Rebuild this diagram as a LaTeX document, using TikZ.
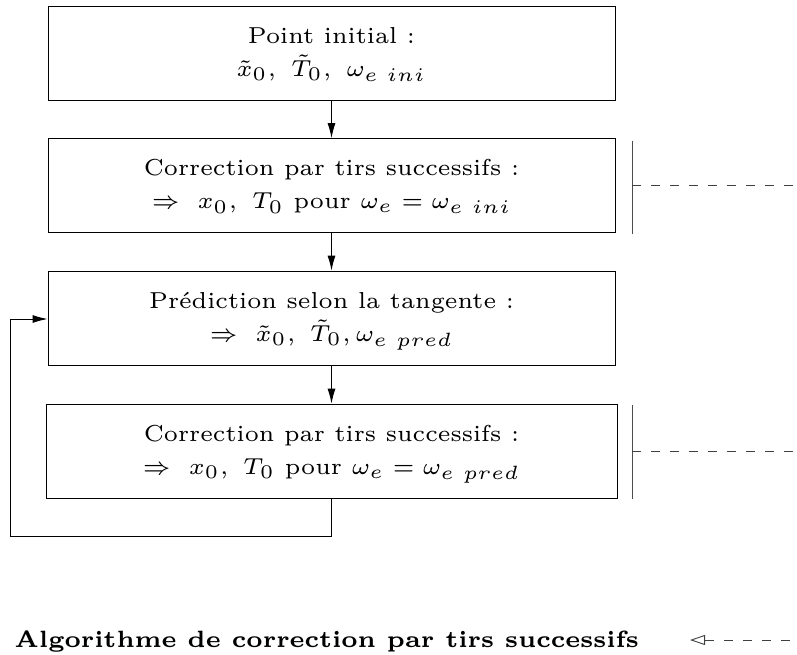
\documentclass[tikz,border=0pt]{standalone}
\usepackage{fix-cm}
\usepackage{graphicx}
\usetikzlibrary{arrows.meta}
\newcommand{\boxtext}[1]{\scalebox{3.85}{\fontsize{6}{8.6}\selectfont\begin{tabular}{@{}c@{}}#1\end{tabular}}}
\begin{document}
\begin{tikzpicture}[x=1pt,y=-1pt,
  stepbox/.style={draw,line width=0.9pt,minimum width=567pt,minimum height=94pt,align=center,inner sep=0pt},
  link/.style={line width=0.9pt,-{Latex[length=15pt,width=8pt]}},
  side/.style={line width=0.9pt,draw=black!70},
  dashline/.style={line width=0.9pt,draw=black!75,dash pattern=on 9pt off 10pt}]
\useasboundingbox (0,0) rectangle (797,655);
\node[stepbox] (b1) at (331.5,53) {\boxtext{Point initial :\\ $\tilde{x}_0,\ \tilde{T}_0,\ \omega_{e\ ini}$}};
\node[stepbox] (b2) at (331.5,185.5) {\boxtext{Correction par tirs successifs :\\ $\Rightarrow\ x_0,\ T_0$ pour $\omega_e=\omega_{e\ ini}$}};
\node[stepbox] (b3) at (331.5,318) {\boxtext{Pr\'ediction selon la tangente :\\ $\Rightarrow\ \tilde{x}_0,\ \tilde{T}_0,\omega_{e\ pred}$}};
\node[stepbox,minimum width=571pt] (b4) at (331.5,451) {\boxtext{Correction par tirs successifs :\\ $\Rightarrow\ x_0,\ T_0$ pour $\omega_e=\omega_{e\ pred}$}};
\draw[link] (b1) -- (b2);
\draw[link] (b2) -- (b3);
\draw[link] (b3) -- (b4);
\coordinate (l1) at (331.5,536);
\coordinate (l2) at (10.5,536);
\coordinate (l3) at (10.5,319);
\draw[link] (b4.south) -- (l1) -- (l2) -- (l3) -- (b3.west |- l3);
% side markers
\coordinate (s1t) at (632,141); \coordinate (s1b) at (632,234);
\coordinate (s1m) at (632,185); \coordinate (s1e) at (797,185);
\draw[side] (s1t) -- (s1b);
\draw[dashline] (s1m) -- (s1e);
\coordinate (s2t) at (632,405); \coordinate (s2b) at (632,499);
\coordinate (s2m) at (632,451); \coordinate (s2e) at (797,451);
\draw[side] (s2t) -- (s2b);
\draw[dashline] (s2m) -- (s2e);
% legend
\node[anchor=base west,inner sep=0pt] (leg) at (14.5,647) {\scalebox{3.93}{\fontsize{6}{8}\bfseries\selectfont Algorithme de correction par tirs successifs}};
\coordinate (la) at (690,640); \coordinate (lb) at (797,640);
\draw[dashline,{Triangle[open,length=15pt,width=10pt]}-] (la) -- (lb);
\end{tikzpicture}
\end{document}
